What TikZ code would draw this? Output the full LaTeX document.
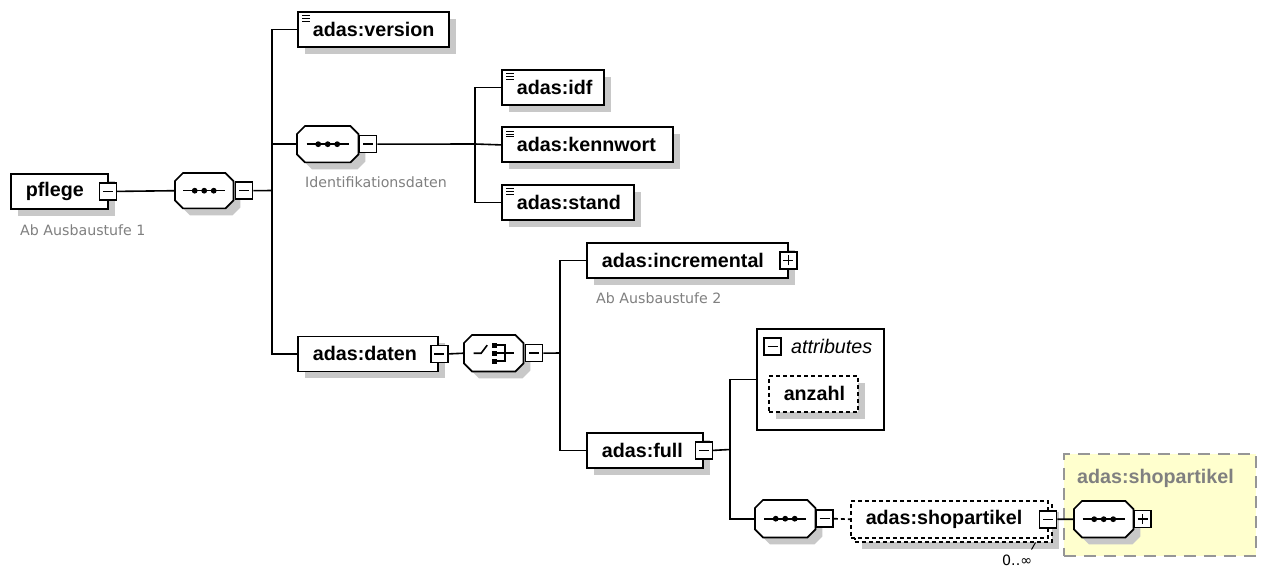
\documentclass[tikz,border=0pt]{standalone}
\usepackage{fontspec}
\setmainfont{Liberation Sans}
\newfontfamily\annofont{DejaVu Sans}
\usetikzlibrary{shadows}
\definecolor{shadowc}{RGB}{200,200,200}
\definecolor{annogray}{RGB}{128,128,128}
\definecolor{paleyellow}{RGB}{255,255,206}
\definecolor{framegray}{RGB}{150,150,150}
\newcommand\elemfont{\fontsize{19.7}{23}\selectfont\bfseries\hyphenpenalty=10000\relax}
\newcommand\italfont{\fontsize{19.7}{23}\selectfont\itshape}
% octagon (model group) drawn round an invisible node
\newcommand\octagon[1]{%
  \fill[shadowc, transform canvas={shift={(7pt,-7pt)}}]
    ([xshift=8pt]#1.north west) -- ([xshift=-8pt]#1.north east) -- ([yshift=-8pt]#1.north east)
    -- ([yshift=8pt]#1.south east) -- ([xshift=-8pt]#1.south east) -- ([xshift=8pt]#1.south west)
    -- ([yshift=8pt]#1.south west) -- ([yshift=-8pt]#1.north west) -- cycle;
  \filldraw[fill=white, draw=black, line width=1.7pt]
    ([xshift=8pt]#1.north west) -- ([xshift=-8pt]#1.north east) -- ([yshift=-8pt]#1.north east)
    -- ([yshift=8pt]#1.south east) -- ([xshift=-8pt]#1.south east) -- ([xshift=8pt]#1.south west)
    -- ([yshift=8pt]#1.south west) -- ([yshift=-8pt]#1.north west) -- cycle;}
\newcommand\seqicon[1]{%
  \draw[line width=1.6pt] ([xshift=-21pt]#1.center) -- ([xshift=21pt]#1.center);
  \fill[black] ([xshift=-9.5pt]#1.center) circle (2.9pt);
  \fill[black] (#1.center) circle (2.9pt);
  \fill[black] ([xshift=9.5pt]#1.center) circle (2.9pt);}
\newcommand\choiceicon[1]{%
  \draw[line width=1.6pt] ([xshift=-20pt]#1.center) -- ([xshift=-12.5pt]#1.center) -- ([xshift=-6.5pt,yshift=8pt]#1.center);
  \fill[black] ([xshift=-1.8pt,yshift=5.7pt]#1.center) rectangle ([xshift=2.8pt,yshift=10.3pt]#1.center);
  \fill[black] ([xshift=-1.8pt,yshift=-2.3pt]#1.center) rectangle ([xshift=2.8pt,yshift=2.3pt]#1.center);
  \fill[black] ([xshift=-1.8pt,yshift=-10.3pt]#1.center) rectangle ([xshift=2.8pt,yshift=-5.7pt]#1.center);
  \draw[line width=1.6pt] ([xshift=2.8pt,yshift=8pt]#1.center) -- ([xshift=11.5pt,yshift=8pt]#1.center)
    -- ([xshift=11.5pt,yshift=-8pt]#1.center) -- ([xshift=2.8pt,yshift=-8pt]#1.center);
  \draw[line width=1.6pt] ([xshift=2.8pt]#1.center) -- ([xshift=20pt]#1.center);}
\begin{document}
\begin{tikzpicture}[x=1pt,y=-1pt,
  shadowed/.style={general shadow={fill=shadowc, shadow xshift=7pt, shadow yshift=-7pt}},
  elembase/.style={draw, line width=1.8pt, fill=white, anchor=north west, minimum height=35pt,
    inner xsep=15pt, inner ysep=0pt, align=left, font=\elemfont},
  elem/.style={elembase, shadowed},
  leaf/.style={elem, path picture={\foreach \k in {0,1,2}{\draw[black, line width=0.9pt]
      ([xshift=4.5pt,yshift={-4pt-2.75pt*\k}]path picture bounding box.north west) -- ++(7.5,0);}}},
  dashbox/.style={line width=1.5pt, dash pattern=on 4pt off 3pt},
  oct/.style={rectangle, draw=none, anchor=north west, inner sep=0pt, minimum height=36pt},
  mbox/.style={draw, line width=1.5pt, fill=white, minimum size=17pt, inner sep=0pt,
    path picture={\draw[black, line width=1.5pt] ([xshift=-5pt]path picture bounding box.center) -- ([xshift=5pt]path picture bounding box.center);}},
  pbox/.style={draw, line width=1.5pt, fill=white, minimum size=17pt, inner sep=0pt,
    path picture={\draw[black, line width=1.5pt] ([xshift=-5pt]path picture bounding box.center) -- ([xshift=5pt]path picture bounding box.center);
      \draw[black, line width=1.5pt] ([yshift=-5pt]path picture bounding box.center) -- ([yshift=5pt]path picture bounding box.center);}},
  conn/.style={line width=1.6pt},
  anno/.style={anchor=base west, inner sep=0pt, text=annogray, font=\annofont\fontsize{14.2}{16}\selectfont}
]
\fill[white] (0,0) rectangle (1270,567);
\useasboundingbox (0,0) rectangle (1270,567);

% root
\node[elem, text width=67pt] (pflege) at (10,173) {pflege};
\node[mbox] (pflegeM) at ([xshift=-1pt]pflege.east) {};
\node[anno] (pflegeN) at (20,235) {Ab Ausbaustufe 1};
\node[oct, minimum width=58pt, minimum height=35pt] (seq1) at (175,173) {};
\octagon{seq1}\seqicon{seq1}
\node[mbox, anchor=west] (seq1M) at ([xshift=1.5pt]seq1.east) {};
\coordinate (bus1) at (272,190.5);

% first level
\node[leaf, text width=121pt] (version) at (297,11) {adas:version};
\node[oct, minimum width=61pt] (seq2) at (297,126) {};
\octagon{seq2}\seqicon{seq2}
\node[mbox, anchor=west] (seq2M) at ([xshift=0.5pt]seq2.east) {};
\node[anno] (seq2N) at (305,188) {Identifikationsdaten};
\coordinate (bus2) at (475,144);
\node[leaf, text width=72pt] (idf) at (501,69) {adas:idf};
\node[leaf, text width=141pt] (kennwort) at (501,126.5) {adas:kennwort};
\node[leaf, text width=102pt] (stand) at (501,184) {adas:stand};

\node[elem, text width=110pt] (daten) at (297,335.5) {adas:daten};
\node[mbox] (datenM) at ([xshift=0.5pt]daten.east) {};
\node[oct, minimum width=59pt] (choice) at (464,335) {};
\octagon{choice}\choiceicon{choice}
\node[mbox, anchor=west] (choiceM) at ([xshift=1.5pt]choice.east) {};
\coordinate (bus3) at (560,353);

\node[elem, text width=171pt] (incr) at (586,242) {adas:incremental};
\node[pbox] (incrM) at ([xshift=-0.5pt]incr.east) {};
\node[anno] (incrN) at (596,303) {Ab Ausbaustufe 2};
\node[elem, text width=86pt] (full) at (586,432) {adas:full};
\node[mbox] (fullM) at (full.east) {};
\coordinate (bus4) at (730,449.5);

% attributes
\node[draw, line width=1.6pt, anchor=north west, minimum width=127pt, minimum height=101pt, inner sep=0pt] (attr) at (756,328) {};
\node[mbox] (attrM) at (772.5,346.5) {};
\node[anchor=base west, inner sep=0pt, font=\italfont] (attrT) at (791,353) {attributes};
\node[elem, dashbox, text width=59pt, minimum height=36pt] (anzahl) at (768,375) {anzahl};

% bottom sequence
\node[oct, minimum width=60pt, minimum height=37pt] (seq3) at (755,500) {};
\octagon{seq3}\seqicon{seq3}
\node[mbox, anchor=west] (seq3M) at (seq3.east) {};
\node[elem, dashbox, text width=167pt, minimum height=37pt] (shopB) at (854,504) {};
\node[elembase, dashbox, text width=167pt, minimum height=37pt] (shop) at (850,500) {adas:shopartikel};
\node[mbox] (shopM) at ([xshift=-0.5pt]shop.east) {};
\draw[line width=1pt] ([xshift=-17pt]shopB.south east) -- ++(-4,7);
\node[anchor=base west, inner sep=0pt, font=\annofont\fontsize{14.2}{16}\selectfont] (occ) at (1002,565) {0..∞};

% referenced type
\node[draw=framegray, fill=paleyellow, line width=1.5pt, dash pattern=on 12pt off 8pt, anchor=north west,
  minimum width=192pt, minimum height=102pt, inner sep=0pt] (ybox) at (1063,453) {};
\node[anchor=base west, inner sep=0pt, text=annogray, font=\elemfont] (ytitle) at (1077,483) {adas:shopartikel};
\node[oct, minimum width=59pt] (seq4) at (1074,501) {};
\octagon{seq4}\seqicon{seq4}
\node[pbox, anchor=west] (seq4P) at (seq4.east) {};

% connectors
\draw[conn] (pflegeM.east) -- (seq1.west);
\draw[conn] (seq1M.east) -- (bus1);
\draw[conn] (bus1) |- (version.west);
\draw[conn] (bus1) |- (seq2.west);
\draw[conn] (bus1) |- (daten.west);
\draw[conn] (seq2M.east) -- (bus2);
\draw[conn] (bus2) |- (idf.west);
\draw[conn] (bus2) -- (kennwort.west);
\draw[conn] (bus2) |- (stand.west);
\draw[conn] (datenM.east) -- (choice.west);
\draw[conn] (choiceM.east) -- (bus3);
\draw[conn] (bus3) |- (incr.west);
\draw[conn] (bus3) |- (full.west);
\draw[conn] (fullM.east) -- (bus4);
\draw[conn] (bus4) |- (attr.west);
\draw[conn] (bus4) |- (seq3.west);
\draw[conn, dash pattern=on 4pt off 3pt] (seq3M.east) -- (shop.west);
\draw[conn] (shopM.east) -- (seq4.west);
\end{tikzpicture}
\end{document}
